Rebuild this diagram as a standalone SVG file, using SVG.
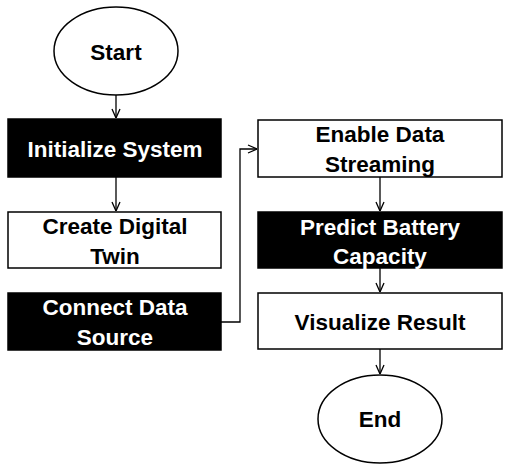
<svg xmlns="http://www.w3.org/2000/svg" width="511" height="471" viewBox="0 0 511 471">
<defs>
<marker id="arr" viewBox="0 0 10 10" refX="10" refY="5" markerWidth="10" markerHeight="10" markerUnits="userSpaceOnUse" orient="auto">
<path d="M1,1 L10,5 L1,9" fill="none" stroke="#000" stroke-width="1.3"/>
</marker>
<style>
.w{fill:#fff;stroke:#000;stroke-width:1.5}
.b{fill:#000;stroke:#000;stroke-width:1.5}
.t{font-family:"Liberation Sans",Arial,sans-serif;font-weight:bold;font-size:22.5px;text-anchor:middle}
.tw{fill:#fff}
.tb{fill:#000}
.c{fill:none;stroke:#000;stroke-width:1.3;marker-end:url(#arr)}
</style>
</defs>
<rect width="511" height="471" fill="#fff"/>
<g id="connectors">
<path class="c" d="M116,95 V118"/>
<path class="c" d="M116,177 V211"/>
<path class="c" d="M221,322 H240 V149 H257"/>
<path class="c" d="M380,177 V211"/>
<path class="c" d="M380,268 V292"/>
<path class="c" d="M380,349 V374"/>
</g>
<g id="start">
<ellipse class="w" cx="116" cy="51" rx="62" ry="44"/>
<text class="t tb" x="116" y="60">Start</text>
</g>
<g id="init">
<rect class="b" x="8" y="119" width="213" height="58"/>
<text class="t tw" x="115" y="157">Initialize System</text>
</g>
<g id="twin">
<rect class="w" x="8" y="212" width="213" height="56"/>
<text class="t tb" x="115" y="234">Create Digital</text>
<text class="t tb" x="115" y="264">Twin</text>
</g>
<g id="connect">
<rect class="b" x="8" y="293" width="213" height="57"/>
<text class="t tw" x="115" y="315">Connect Data</text>
<text class="t tw" x="115" y="345">Source</text>
</g>
<g id="stream">
<rect class="w" x="258" y="120" width="244" height="57"/>
<text class="t tb" x="380" y="142">Enable Data</text>
<text class="t tb" x="380" y="172">Streaming</text>
</g>
<g id="predict">
<rect class="b" x="258" y="212" width="244" height="56"/>
<text class="t tw" x="380" y="235">Predict Battery</text>
<text class="t tw" x="380" y="264">Capacity</text>
</g>
<g id="visualize">
<rect class="w" x="258" y="293" width="244" height="56"/>
<text class="t tb" x="380" y="330">Visualize Result</text>
</g>
<g id="end">
<ellipse class="w" cx="380" cy="419" rx="62" ry="44"/>
<text class="t tb" x="380" y="427">End</text>
</g>
</svg>
